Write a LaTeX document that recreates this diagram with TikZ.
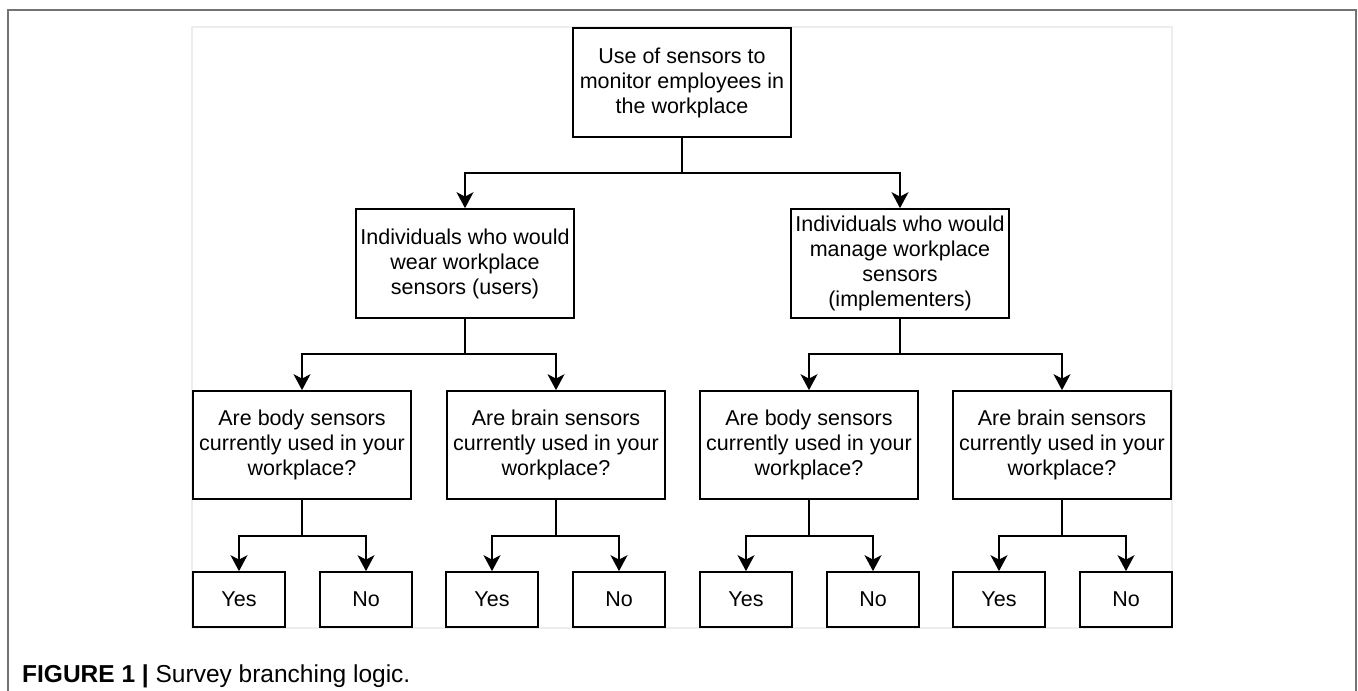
\documentclass[tikz,border=0pt]{standalone}
\usepackage{fontspec}
\setmainfont{Liberation Sans}
\usetikzlibrary{arrows.meta}
\tikzset{
  box/.style={draw=black, line width=1.7pt, fill=white, align=center, inner sep=0pt,
    font=\fontsize{21.5}{25}\selectfont},
  bigbox/.style={box, minimum width=218pt, minimum height=109pt},
  smallbox/.style={box, minimum width=92pt, minimum height=55pt},
  arr/.style={draw=black, line width=1.7pt, -{Stealth[length=16pt, width=17pt, inset=4.5pt]}},
  link/.style={draw=black, line width=1.7pt},
}
\begin{document}
\begin{tikzpicture}[x=1pt, y=-1pt]
\useasboundingbox (0,0) rectangle (1358,691);
% outer frame
\draw[color=black!55, line width=2pt] (8,700) -- (8,10) -- (1355.5,10) -- (1355.5,700);
% inner panel
\draw[color=black!7, line width=1.5pt, fill=white] (192,27) rectangle (1172,628);

% level 1
\node[bigbox] (top) at (682,82.5) {Use of sensors to\\monitor employees in\\the workplace};
% level 2
\node[bigbox] (ml) at (465,263.5) {Individuals who would\\wear workplace\\sensors (users)};
\node[bigbox] (mr) at (900,263.5) {Individuals who would\\manage workplace\\sensors\\(implementers)};
% level 3
\node[bigbox, minimum height=108pt] (q1) at (302,445) {Are body sensors\\currently used in your\\workplace?};
\node[bigbox, minimum height=108pt] (q2) at (556,445) {Are brain sensors\\currently used in your\\workplace?};
\node[bigbox, minimum height=108pt] (q3) at (809,445) {Are body sensors\\currently used in your\\workplace?};
\node[bigbox, minimum height=108pt] (q4) at (1062,445) {Are brain sensors\\currently used in your\\workplace?};
% level 4
\node[smallbox] (y1) at (239,599.5) {Yes};
\node[smallbox] (n1) at (366,599.5) {No};
\node[smallbox] (y2) at (492,599.5) {Yes};
\node[smallbox] (n2) at (619,599.5) {No};
\node[smallbox] (y3) at (746,599.5) {Yes};
\node[smallbox] (n3) at (873,599.5) {No};
\node[smallbox] (y4) at (999,599.5) {Yes};
\node[smallbox] (n4) at (1126,599.5) {No};

% junctions
\coordinate (j0) at (682,173);
\coordinate (jl) at (465,354);
\coordinate (jr) at (900,354);
\coordinate (j1) at (302,536);
\coordinate (j2) at (556,536);
\coordinate (j3) at (809,536);
\coordinate (j4) at (1062,536);

\draw[link] (top.south) -- (j0);
\draw[arr] (j0) -| (ml.north);
\draw[arr] (j0) -| (mr.north);

\draw[link] (ml.south) -- (jl);
\draw[arr] (jl) -| (q1.north);
\draw[arr] (jl) -| (q2.north);
\draw[link] (mr.south) -- (jr);
\draw[arr] (jr) -| (q3.north);
\draw[arr] (jr) -| (q4.north);

\draw[link] (q1.south) -- (j1);
\draw[arr] (j1) -| (y1.north);
\draw[arr] (j1) -| (n1.north);
\draw[link] (q2.south) -- (j2);
\draw[arr] (j2) -| (y2.north);
\draw[arr] (j2) -| (n2.north);
\draw[link] (q3.south) -- (j3);
\draw[arr] (j3) -| (y3.north);
\draw[arr] (j3) -| (n3.north);
\draw[link] (q4.south) -- (j4);
\draw[arr] (j4) -| (y4.north);
\draw[arr] (j4) -| (n4.north);

% caption
\node[anchor=base west, inner sep=0pt, font=\fontsize{24.5}{28}\selectfont] (cap) at (22,682)
  {\textbf{FIGURE 1 |} Survey branching logic.};
\end{tikzpicture}
\end{document}
